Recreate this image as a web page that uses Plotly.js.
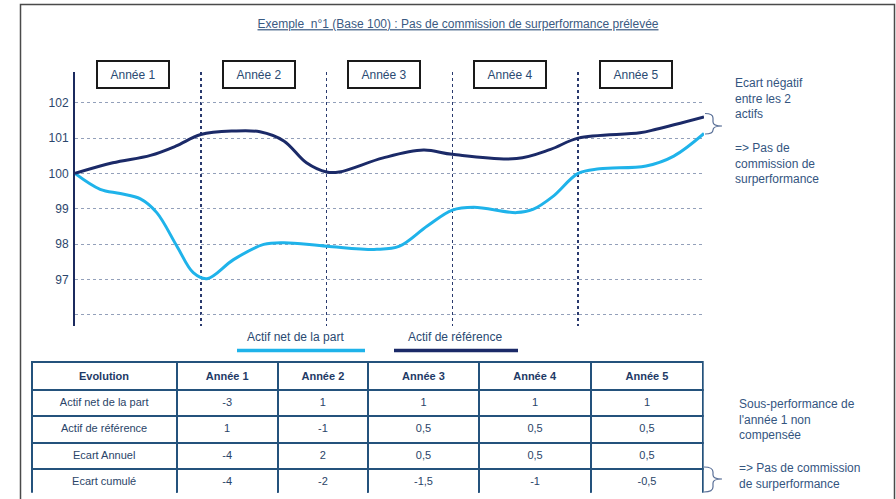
<!DOCTYPE html>
<html>
<head>
<meta charset="utf-8">
<script src="https://cdn.plot.ly/plotly-3.0.1.min.js"></script>
<style>html,body{margin:0;padding:0;background:#fff;}#chart{width:896px;height:499px;}</style>
</head>
<body>
<div id="chart"></div>
<script>
// ---- Data ----
const years = ['Année 1', 'Année 2', 'Année 3', 'Année 4', 'Année 5'];
const yTicks = [96, 97, 98, 99, 100, 101, 102];

// Actif de référence (dark navy curve)
const refX = [0, 0.3, 0.6, 0.8, 1.0, 1.26, 1.47, 1.66, 1.84, 2.0, 2.1, 2.45, 2.77, 3.0, 3.51, 3.78, 4.0, 4.49, 4.62, 5.0];
const refY = [100, 100.3, 100.51, 100.77, 101.1, 101.2, 101.18, 100.92, 100.3, 100.04, 100.04, 100.44, 100.66, 100.54, 100.42, 100.68, 101.0, 101.15, 101.25, 101.6];

// Actif net de la part (light blue curve)
const netX = [0, 0.2, 0.36, 0.52, 0.65, 0.81, 0.94, 1.05, 1.26, 1.5, 1.66, 2.0, 2.4, 2.58, 2.8, 3.0, 3.17, 3.51, 3.64, 3.8, 4.0, 4.17, 4.54, 4.76, 5.0];
const netY = [100, 99.55, 99.43, 99.28, 98.89, 97.94, 97.19, 97.02, 97.56, 97.99, 98.04, 97.94, 97.85, 97.94, 98.51, 98.96, 99.04, 98.89, 98.98, 99.35, 100.0, 100.13, 100.21, 100.49, 101.13];

// Table
const tableHeader = ['Evolution', 'Année 1', 'Année 2', 'Année 3', 'Année 4', 'Année 5'];
const rowLabels = ['Actif net de la part', 'Actif de référence', 'Ecart Annuel', 'Ecart cumulé'];
const netAnnual = [-3, 1, 1, 1, 1];
const refAnnual = [1, -1, 0.5, 0.5, 0.5];
const ecartAnnuel = [-4, 2, 0.5, 0.5, 0.5];
const ecartCumule = [-4, -2, -1.5, -1, -0.5];

const titleText = 'Exemple  n°1 (Base 100) : Pas de commission de surperformance prélevée';
const legendNet = 'Actif net de la part';
const legendRef = 'Actif de référence';
const noteTop1 = 'Ecart négatif<br>entre les 2<br>actifs';
const noteTop2 = '=> Pas de<br>commission de<br>surperformance';
const noteBot1 = 'Sous-performance de<br>l\'année 1 non<br>compensée';
const noteBot2 = '=> Pas de commission<br>de surperformance';

// ---- Layout helpers (pixel -> paper) ----
const W = 896, H = 499;
const px = x => x / W;
const py = y => 1 - y / H;
const P = (x, y) => px(x) + ',' + py(y);

const NAVY = '#1b2a68';
const LIGHT = '#1fb3ea';
const TXT = '#34557f';
const FONT = 'Liberation Sans, Arial, sans-serif';

const fmt = v => String(v).replace('.', ',');
const yearColumn = i => [fmt(netAnnual[i]), fmt(refAnnual[i]), fmt(ecartAnnuel[i]), fmt(ecartCumule[i])];

const traces = [
  {
    type: 'scatter', mode: 'lines', x: netX, y: netY, name: legendNet,
    line: {color: LIGHT, width: 3, shape: 'spline', smoothing: 1},
    showlegend: false, hoverinfo: 'skip'
  },
  {
    type: 'scatter', mode: 'lines', x: refX, y: refY, name: legendRef,
    line: {color: NAVY, width: 3, shape: 'spline', smoothing: 1},
    showlegend: false, hoverinfo: 'skip'
  },
  {
    type: 'table',
    domain: {x: [px(31.7), px(703.3)], y: [py(493.3), py(361.7)]},
    columnwidth: [145, 101.3, 90.3, 111, 112.4, 111.6],
    header: {
      values: tableHeader.map(h => '<b>' + h + '</b>'),
      align: 'center', height: 27,
      line: {color: '#24527c', width: 2},
      fill: {color: '#ffffff'},
      font: {family: FONT, size: 11, color: '#1e3a66'}
    },
    cells: {
      values: [rowLabels].concat(years.map((_, i) => yearColumn(i))),
      align: 'center', height: 26.5,
      line: {color: '#24527c', width: 2},
      fill: {color: '#ffffff'},
      font: {family: FONT, size: 11, color: '#2a4468'}
    }
  }
];

const annotations = [];
years.forEach((y, i) => {
  annotations.push({
    xref: 'x', yref: 'paper', x: i + 0.46, y: py(74),
    text: y, showarrow: false, xanchor: 'center', yanchor: 'middle',
    width: 68, height: 23, borderpad: 1, borderwidth: 2, bordercolor: '#1a1a1a', bgcolor: '#ffffff',
    font: {family: FONT, size: 12, color: '#2a4a72'}
  });
});
const note = (text, x, yTop) => ({
  xref: 'paper', yref: 'paper', x: px(x), y: py(yTop), text: text, showarrow: false,
  xanchor: 'left', yanchor: 'top', align: 'left',
  font: {family: FONT, size: 12, color: TXT}
});
annotations.push(note(noteTop1, 733, 74));
annotations.push(note(noteTop2, 733, 138.5));
annotations.push(note(noteBot1, 737, 395));
annotations.push(note(noteBot2, 737, 459));
annotations.push({
  xref: 'paper', yref: 'paper', x: px(295.5), y: py(337), text: legendNet, showarrow: false,
  xanchor: 'center', yanchor: 'middle', font: {family: FONT, size: 12, color: '#2a4a72'}
});
annotations.push({
  xref: 'paper', yref: 'paper', x: px(454.5), y: py(337), text: legendRef, showarrow: false,
  xanchor: 'center', yanchor: 'middle', font: {family: FONT, size: 12, color: '#2a4a72'}
});

const shapes = [
  // outer frame
  {type: 'rect', xref: 'paper', yref: 'paper', x0: px(20.5), x1: px(894.5), y0: py(4.5), y1: py(510),
   line: {color: '#4a4a4a', width: 1.5}, fillcolor: 'rgba(0,0,0,0)'},
  // legend lines
  {type: 'line', xref: 'paper', yref: 'paper', x0: px(237), x1: px(365), y0: py(350.5), y1: py(350.5),
   line: {color: LIGHT, width: 3.5}},
  {type: 'line', xref: 'paper', yref: 'paper', x0: px(394), x1: px(518), y0: py(350.5), y1: py(350.5),
   line: {color: NAVY, width: 3.5}},
  // upper brace
  {type: 'path', xref: 'paper', yref: 'paper',
   path: 'M' + P(705, 113.5) + ' Q' + P(713, 113.5) + ' ' + P(713, 118) + ' L' + P(713, 122) +
         ' Q' + P(713, 126) + ' ' + P(722, 126) + ' Q' + P(713, 126) + ' ' + P(713, 130) +
         ' L' + P(713, 130) + ' Q' + P(713, 134) + ' ' + P(705, 134),
   line: {color: '#5a7098', width: 1.2}},
  // lower brace
  {type: 'path', xref: 'paper', yref: 'paper',
   path: 'M' + P(704, 467) + ' Q' + P(713, 467) + ' ' + P(713, 472) + ' L' + P(713, 475) +
         ' Q' + P(713, 479) + ' ' + P(722, 479) + ' Q' + P(713, 479) + ' ' + P(713, 483) +
         ' L' + P(713, 487) + ' Q' + P(713, 492) + ' ' + P(704, 492),
   line: {color: '#5a7098', width: 1.2}}
];

const layout = {
  width: W, height: H,
  margin: {l: 0, r: 0, t: 0, b: 0},
  paper_bgcolor: '#ffffff', plot_bgcolor: '#ffffff',
  separators: ', ',
  showlegend: false,
  title: {
    text: '<u>' + titleText + '</u>',
    x: px(458), y: py(24), xanchor: 'center', yanchor: 'middle',
    font: {family: FONT, size: 12, color: '#3a5a82'}
  },
  xaxis: {
    domain: [px(75), px(704)], range: [0, 5],
    tickvals: [0, 1, 2, 3, 4, 5], showticklabels: false,
    showgrid: true, gridcolor: '#2a3a6e', griddash: 'dot', gridwidth: 1.5,
    zeroline: false, showline: false, fixedrange: true, automargin: false
  },
  yaxis: {
    domain: [py(326), py(71.7)], range: [95.68, 102.88],
    tickvals: yTicks, ticktext: yTicks.map(v => v === 96 ? '' : String(v)),
    showgrid: true, gridcolor: '#93a0ba', griddash: 'dot', gridwidth: 1,
    zeroline: false, showline: true, linecolor: '#1b2a5e', linewidth: 2,
    ticks: 'outside', ticklen: 2, tickcolor: 'rgba(0,0,0,0)',
    tickfont: {family: FONT, size: 12, color: '#2c466c'},
    fixedrange: true, automargin: false
  },
  annotations: annotations,
  shapes: shapes
};

Plotly.newPlot('chart', traces, layout, {displayModeBar: false, staticPlot: true});
</script>
</body>
</html>
